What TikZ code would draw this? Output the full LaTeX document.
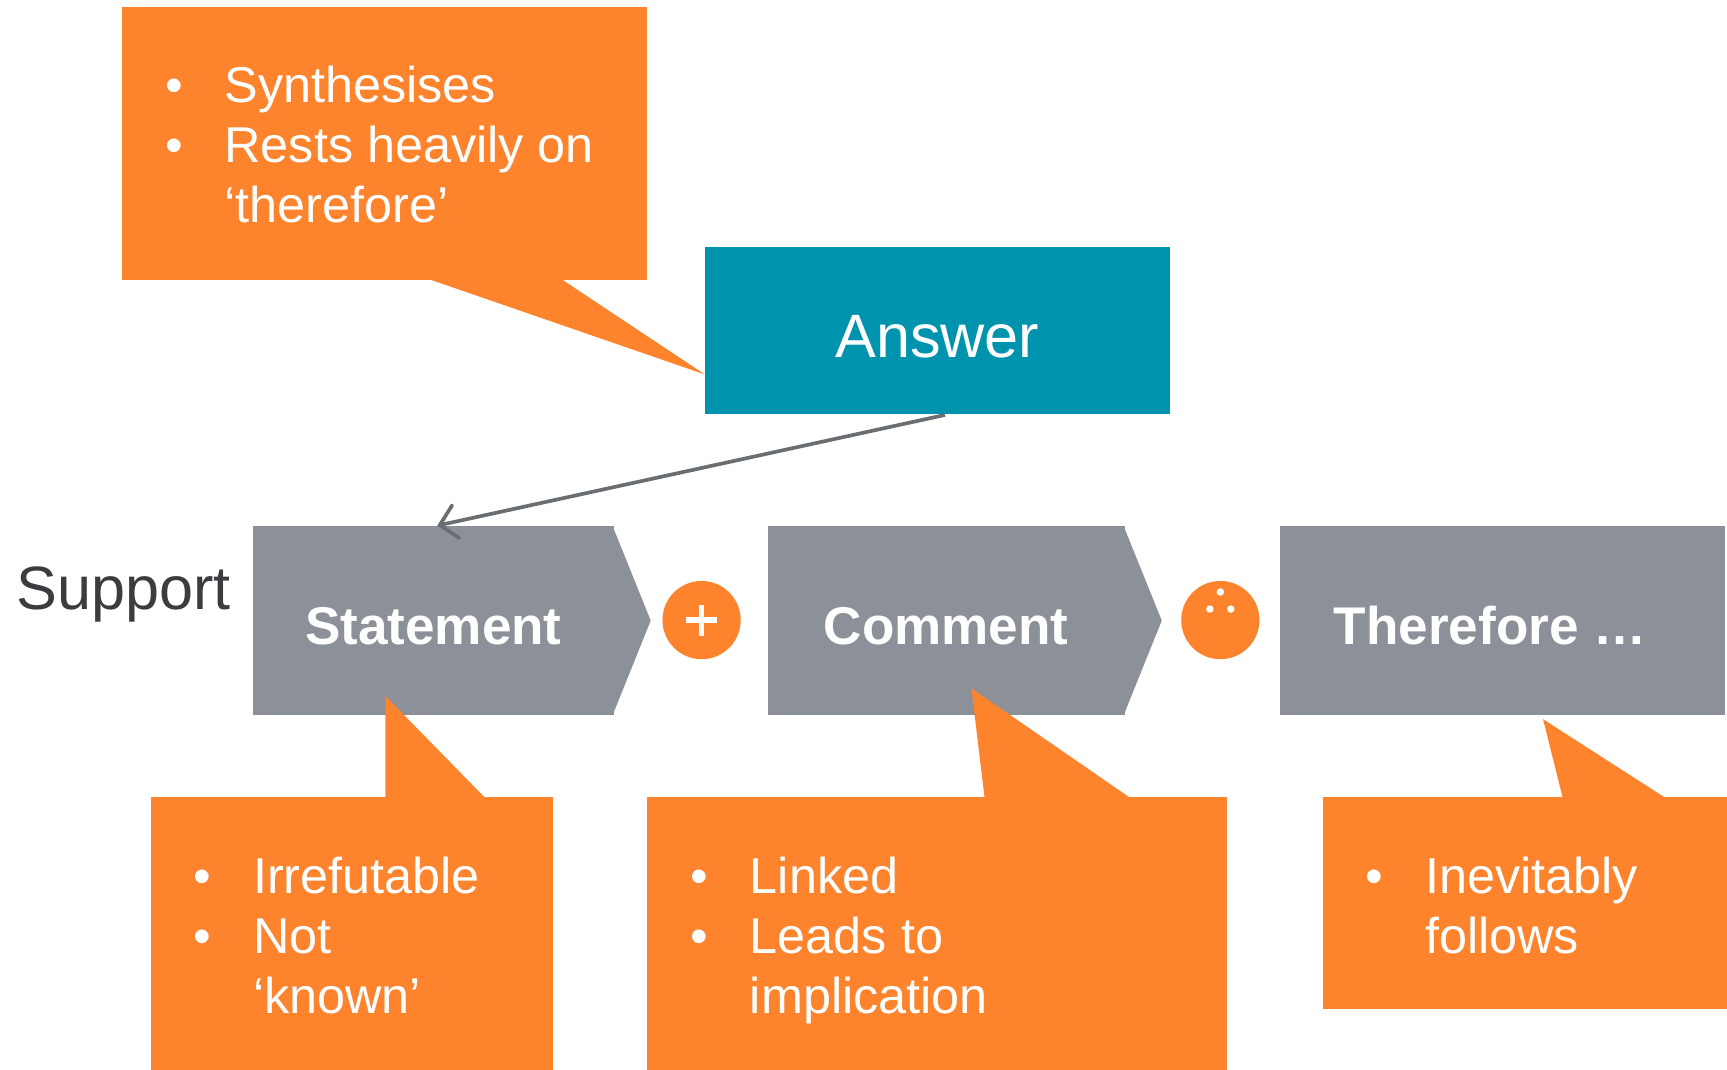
\documentclass[tikz,border=0pt]{standalone}
\usepackage{fontspec}
\setmainfont{Liberation Sans}
\usetikzlibrary{arrows.meta}
\definecolor{notecol}{RGB}{253,131,45}
\definecolor{answercol}{RGB}{0,147,174}
\definecolor{stepcol}{RGB}{140,144,152}
\definecolor{linkcol}{RGB}{106,110,115}
\definecolor{supportcol}{RGB}{59,60,64}
\newcommand{\bul}{\makebox[0.54cm][l]{•}}
\newcommand{\ind}{\hspace*{0.54cm}}

\begin{document}
\begin{tikzpicture}[x=0.01cm,y=-0.01cm]
\tikzstyle{note} = [fill=notecol, inner sep=0pt]
\tikzstyle{notetext} = [anchor=north west, inner sep=0pt, align=left, text=white, font=\fontsize{13}{15.5}\selectfont]
\tikzstyle{stepbox} = [fill=stepcol, inner sep=0pt, minimum height=1.71cm, text height=0.43cm, text=white, font=\fontsize{13.7}{16}\selectfont\bfseries]
\tikzstyle{opcircle} = [circle, fill=notecol, minimum size=0.71cm, inner sep=0pt]
\tikzstyle{freccia} = [-{Straight Barb[length=4.2pt,width=8.6pt,line cap=round]}, draw=linkcol, line width=0.95pt]
\useasboundingbox (0,0) rectangle (1568,971);

% steps
\node[stepbox, minimum width=3.27cm] (stmt) at (393.5,563.5) {Statement};
\fill[stepcol] ([xshift=-0.5pt]stmt.north east) -- ([xshift=0.33cm]stmt.east) -- ([xshift=-0.5pt]stmt.south east) -- cycle;
\node[stepbox, minimum width=3.24cm] (comm) at (859,563.5) {Comment};
\fill[stepcol] ([xshift=-0.5pt]comm.north east) -- ([xshift=0.33cm]comm.east) -- ([xshift=-0.5pt]comm.south east) -- cycle;
\node[stepbox, minimum width=4.04cm] (thus) at (1364,563.5) {Therefore …\hspace*{0.22cm}};

\node[opcircle] (plus) at (637,563) {};
\draw[white, line width=1.5pt] ([xshift=-0.14cm]plus.center) -- ([xshift=0.14cm]plus.center);
\draw[white, line width=1.5pt] ([yshift=-0.14cm]plus.center) -- ([yshift=0.14cm]plus.center);
\node[opcircle] (dots) at (1108,563) {};
\foreach \dx/\dy in {0/0.255, -0.095/0.1, 0.095/0.1}
  \fill[white] ([xshift=\dx cm, yshift=\dy cm]dots.center) circle (0.034cm);

\node[text=supportcol, font=\fontsize{15.8}{18}\selectfont, anchor=base] (support) at (112,553) {Support};

% answer
\node[fill=answercol, minimum width=4.22cm, minimum height=1.52cm, text height=0.5cm, text=white, font=\fontsize{15.8}{18}\selectfont] (answer) at (851,300) {Answer};
\draw[freccia] ([xshift=0.07cm]answer.south) -- ([xshift=0.035cm]stmt.north);

% callouts
\node[note, minimum width=4.76cm, minimum height=2.48cm] (synthnote) at (349,130) {};
\fill[notecol] (388,253) -- (640,340) -- (509,253) -- cycle;
\node[notetext] (synthtxt) at ([xshift=0.39cm,yshift=-0.54cm]synthnote.north west) {\bul Synthesises\\\bul Rests heavily on\\\ind ‘therefore’};

\node[note, minimum width=3.65cm, minimum height=2.48cm] (stmtnote) at (319.5,848) {};
\fill[notecol] (350,725) -- (350,632) -- (441,725) -- cycle;
\node[notetext] (stmttxt) at ([xshift=0.39cm,yshift=-0.54cm]stmtnote.north west) {\bul Irrefutable\\\bul Not\\\ind ‘known’};

\node[note, minimum width=5.26cm, minimum height=2.48cm] (commnote) at (851,848) {};
\fill[notecol] (894,725) -- (882,625) -- (1027,725) -- cycle;
\node[notetext] (commtxt) at ([xshift=0.39cm,yshift=-0.54cm]commnote.north west) {\bul Linked\\\bul Leads to\\\ind implication};

\node[note, minimum width=3.67cm, minimum height=1.92cm] (thusnote) at (1384.5,820) {};
\fill[notecol] (1419,725) -- (1401,653) -- (1513,725) -- cycle;
\node[notetext] (thustxt) at ([xshift=0.39cm,yshift=-0.54cm]thusnote.north west) {\bul Inevitably\\\ind follows};
\end{tikzpicture}
\end{document}
